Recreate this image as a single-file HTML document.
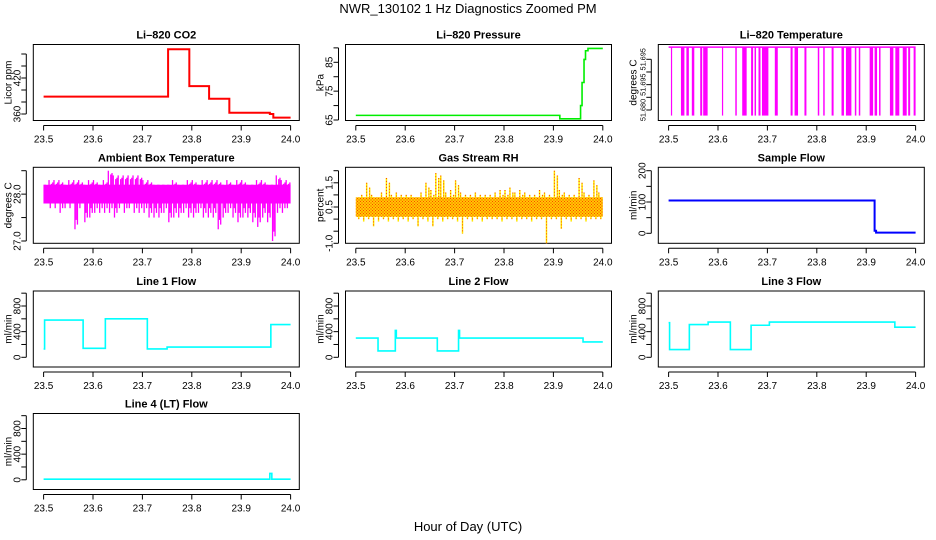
<!DOCTYPE html>
<html><head><meta charset="utf-8">
<style>
html,body{margin:0;padding:0;background:#fff;}
svg{display:block;font-family:"Liberation Sans",Arial,sans-serif;}
</style></head>
<body>
<svg id="chart" width="936" height="540" viewBox="0 0 936 540" xmlns="http://www.w3.org/2000/svg">
<defs>
<pattern id="rhdots" width="3" height="3" patternUnits="userSpaceOnUse"><rect x="0" y="0" width="1" height="1" fill="#ff4400"/><rect x="1.5" y="1.5" width="1" height="1" fill="#ff2200"/></pattern>
</defs>
<text x="468" y="13" text-anchor="middle" font-size="13">NWR_130102  1 Hz Diagnostics Zoomed PM</text>
<text x="468" y="531" text-anchor="middle" font-size="13">Hour of Day (UTC)</text>
</svg>
<script>
// ---- data ----
const xTicks = [23.5, 23.6, 23.7, 23.8, 23.9, 24.0];
const xTickLabels = ["23.5", "23.6", "23.7", "23.8", "23.9", "24.0"];

const co2Times = [23.5, 23.752, 23.795, 23.835, 23.876, 23.958, 23.965, 24.0];
const co2Values = [389, 468, 406.5, 385.5, 362, 360, 354];
const co2Ticks = [360, 380, 400, 420, 440, 460];
const co2TickLabels = ["360", "", "", "420", "", ""];

const presTimes = [23.5, 23.913, 23.955, 23.958, 23.962, 23.965, 23.97, 24.0];
const presValues = [66.6, 65.4, 70, 78, 86, 89, 89.8];
const presTicks = [65, 70, 75, 80, 85, 90];
const presTickLabels = ["65", "", "75", "", "85", ""];

const tempTop = 51.7048;
const tempBottom = 51.6778;
const tempSpikeStart = [23.5047,23.525,23.536,23.547,23.564,23.570,23.608,23.635,23.649,23.667,23.674,23.682,23.689,23.715,23.747,23.755,23.775,23.802,23.813,23.830,23.850,23.859,23.877,23.885,23.907,23.917,23.926,23.948,23.959,23.974,23.985,23.996];
const tempSpikeEnd   = [23.5060,23.532,23.541,23.552,23.568,23.579,23.609,23.638,23.658,23.671,23.677,23.686,23.702,23.721,23.751,23.762,23.779,23.805,23.816,23.834,23.855,23.870,23.880,23.888,23.914,23.922,23.929,23.955,23.967,23.982,23.989,24.0];
const tempTicks = [51.680, 51.685, 51.690, 51.695, 51.700];
const tempTickLabels = ["51.680", "", "51.695", "", "51.695"];

const ambCore = [27.8, 28.2];
const ambHi = [28.2,28.3,28.3,28.3,28.2,28.3,28.3,28.3,28.2,28.3, 28.3,28.2,28.3,28.5,28.4,28.4,28.4,28.4,28.4,28.4, 28.3,28.3,28.2,28.2,28.2,28.2,28.3,28.2,28.2,28.3, 28.3,28.2,28.3,28.3,28.3,28.3,28.2,28.3,28.2,28.3, 28.3,28.2,28.2,28.3,28.3,28.2,28.2,28.4,28.3,28.3];
const ambLo = [27.8,27.7,27.7,27.6,27.7,27.7,27.25,27.7,27.4,27.5, 27.6,27.6,27.6,27.6,27.5,27.7,27.6,27.7,27.6,27.6, 27.6,27.5,27.5,27.5,27.6,27.4,27.5,27.5,27.6,27.5, 27.5,27.6,27.5,27.5,27.5,27.25,27.5,27.6,27.5,27.4, 27.5,27.5,27.4,27.3,27.5,27.4,27.0,27.6,27.6,27.7];
const ambTicks = [27.0, 27.5, 28.0, 28.5];
const ambTickLabels = ["27.0", "", "28.0", ""];

const rhCore = [0.1, 0.9];
const rhHi = [0.7,1.0,1.5,1.0,0.9,1.1,1.7,1.0,1.1,1.0, 1.0,1.0,0.9,1.1,1.5,1.2,1.9,1.8,1.1,1.2, 1.6,1.1,1.0,1.0,1.1,1.0,1.0,1.0,1.1,1.2, 1.2,1.3,1.1,1.2,1.1,1.0,1.0,1.2,1.1,1.0, 2.0,1.2,1.1,1.0,1.0,1.7,1.1,1.0,1.6,1.1];
const rhLo = [0.0,-0.1,0.0,-0.3,-0.1,0.0,-0.1,0.0,-0.1,0.0, -0.1,0.0,-0.3,0.0,-0.1,-0.3,0.0,-0.1,0.0,0.0, -0.1,-0.6,0.0,-0.1,0.0,-0.1,0.0,0.0,0.0,-0.1, 0.0,0.0,-0.1,0.0,0.0,-0.1,0.0,0.0,-1.0,0.0, 0.0,-0.4,0.0,-0.1,0.0,0.0,-0.1,0.0,0.0,0.0];
const rhTicks = [-1.0, -0.5, 0, 0.5, 1.0, 1.5, 2.0];
const rhTickLabels = ["-1.0", "", "", "0.5", "", "1.5", ""];

const sampTimes = [23.5, 23.917, 23.92, 24.0];
const sampValues = [105, 8, 2];
const sampTicks = [0, 50, 100, 150, 200];
const sampTickLabels = ["0", "", "100", "", "200"];

const flowTicks = [0, 200, 400, 600, 800, 1000];
const flowTickLabels = ["0", "", "400", "", "800", ""];
const line1Times = [23.5, 23.502, 23.58, 23.625, 23.71, 23.75, 23.96, 24.0];
const line1Values = [130, 580, 140, 600, 130, 160, 510];
const line2Times = [23.5, 23.545, 23.58, 23.582, 23.665, 23.708, 23.71, 23.96, 24.0];
const line2Values = [300, 100, 420, 300, 100, 420, 300, 240];
const line3Times = [23.5, 23.502, 23.542, 23.58, 23.625, 23.667, 23.704, 23.958, 24.0];
const line3Values = [540, 120, 510, 550, 120, 500, 550, 470];
const line4Times = [23.5, 23.958, 23.962, 24.0];
const line4Values = [10, 100, 10];

// ---- layout ----
const svg = document.getElementById('chart');
const NS = 'http://www.w3.org/2000/svg';
const colLeft = [33.3, 345.5, 658.3];
const rowTop = [44.5, 167.3, 291, 413.5];
const W = 266, H = 76;

function el(tag, parent) { const e = document.createElementNS(NS, tag); parent.appendChild(e); return e; }

function makePanel(col, row, title, ylab, yv0, yOff0, yv1, yOff1, ticks, tickLabels, name, tickFont) {
  const left = colLeft[col], top = rowTop[row];
  const g = el('g', svg);
  
  
  const xs = t => left + 10.3 + (t - 23.5) / 0.5 * 247;
  const ys = v => top + yOff0 + (v - yv0) * (yOff1 - yOff0) / (yv1 - yv0);
  const box = el('rect', g);
  box.setAttribute('x', left); box.setAttribute('y', top); box.setAttribute('width', W); box.setAttribute('height', H);
  box.setAttribute('fill', 'none'); box.setAttribute('stroke', '#000'); box.setAttribute('stroke-width', '1');
  
  
  const tt = el('text', g);
  tt.setAttribute('x', left + W / 2); tt.setAttribute('y', top - 6); tt.setAttribute('text-anchor', 'middle');
  tt.setAttribute('font-size', '11'); tt.setAttribute('font-weight', 'bold');
  tt.textContent = title;
  
  
  const ax = el('g', g);
  
  
  const ay = top + H + 5;
  const xl = el('line', ax);
  xl.setAttribute('x1', xs(xTicks[0])); xl.setAttribute('x2', xs(xTicks[xTicks.length - 1]));
  xl.setAttribute('y1', ay); xl.setAttribute('y2', ay); xl.setAttribute('stroke', '#000');
  xTicks.forEach((t, i) => {
    const tk = el('line', ax);
    tk.setAttribute('x1', xs(t)); tk.setAttribute('x2', xs(t)); tk.setAttribute('y1', ay); tk.setAttribute('y2', ay + 5); tk.setAttribute('stroke', '#000');
    const lb = el('text', ax);
    lb.setAttribute('x', xs(t)); lb.setAttribute('y', ay + 17); lb.setAttribute('text-anchor', 'middle'); lb.setAttribute('font-size', '10');
    lb.textContent = xTickLabels[i];
    
    
  });
  const yg = el('g', g);
  
  
  const axx = left - 7;
  const yl = el('line', yg);
  yl.setAttribute('x1', axx); yl.setAttribute('x2', axx); yl.setAttribute('y1', ys(ticks[0])); yl.setAttribute('y2', ys(ticks[ticks.length - 1])); yl.setAttribute('stroke', '#000');
  ticks.forEach((v, i) => {
    const tk = el('line', yg);
    tk.setAttribute('x1', axx - 5); tk.setAttribute('x2', axx); tk.setAttribute('y1', ys(v)); tk.setAttribute('y2', ys(v)); tk.setAttribute('stroke', '#000');
    if (tickLabels[i]) {
      const lb = el('text', yg);
      const lx = axx - 6, ly = ys(v);
      lb.setAttribute('x', lx); lb.setAttribute('y', ly); lb.setAttribute('text-anchor', 'middle'); lb.setAttribute('font-size', tickFont || '10');
      lb.setAttribute('transform', 'rotate(-90 ' + lx + ' ' + ly + ')');
      lb.textContent = tickLabels[i];
      
      
    }
  });
  const yt = el('text', g);
  const yx = left - 22, yy = top + H / 2;
  yt.setAttribute('x', yx); yt.setAttribute('y', yy); yt.setAttribute('text-anchor', 'middle'); yt.setAttribute('font-size', '10');
  yt.setAttribute('transform', 'rotate(-90 ' + yx + ' ' + yy + ')');
  yt.textContent = ylab;
  
  
  return { g, xs, ys };
}

function stepLine(p, times, values, color, width, name) {
  let d = '';
  for (let i = 0; i < values.length; i++) {
    const x0 = p.xs(times[i]), x1 = p.xs(times[i + 1]), y = p.ys(values[i]);
    d += (i === 0 ? 'M' : 'L') + x0.toFixed(2) + ' ' + y.toFixed(2) + ' L' + x1.toFixed(2) + ' ' + y.toFixed(2) + ' ';
  }
  const path = el('path', p.g);
  path.setAttribute('d', d); path.setAttribute('fill', 'none'); path.setAttribute('stroke', color); path.setAttribute('stroke-width', width);
  
  
}

// CO2
const pCo2 = makePanel(0, 0, 'Li–820 CO2', 'Licor ppm', 360, 69.5, 420, 33.5, co2Ticks, co2TickLabels, 'co2');
stepLine(pCo2, co2Times, co2Values, '#ff0000', 2, 'co2-series');

// Pressure
const pPres = makePanel(1, 0, 'Li–820 Pressure', 'kPa', 65, 75.5, 85, 17.8, presTicks, presTickLabels, 'pressure');
stepLine(pPres, presTimes, presValues, '#00ee00', 1.6, 'pressure-series');

// Temperature
const pTemp = makePanel(2, 0, 'Li–820 Temperature', 'degrees C', 51.680, 65.5, 51.700, 14.8, tempTicks, tempTickLabels, 'li820-temp', '7.3');
const topLine = el('line', pTemp.g);
topLine.setAttribute('x1', pTemp.xs(23.5)); topLine.setAttribute('x2', pTemp.xs(24.0));
topLine.setAttribute('y1', pTemp.ys(tempTop)); topLine.setAttribute('y2', pTemp.ys(tempTop));
topLine.setAttribute('stroke', '#ff00ff'); topLine.setAttribute('stroke-width', '1.5');


tempSpikeStart.forEach((s, i) => {
  const r = el('rect', pTemp.g);
  const x0 = pTemp.xs(s), x1 = pTemp.xs(tempSpikeEnd[i]);
  r.setAttribute('x', x0); r.setAttribute('width', Math.max(1.2, x1 - x0));
  r.setAttribute('y', pTemp.ys(tempTop)); r.setAttribute('height', pTemp.ys(tempBottom) - pTemp.ys(tempTop));
  r.setAttribute('fill', '#ff00ff');
  
  
});

// Ambient
const pAmb = makePanel(0, 1, 'Ambient Box Temperature', 'degrees C', 27.0, 73.7, 28.5, 3.4, ambTicks, ambTickLabels, 'ambient-temp');
const ambBand = el('rect', pAmb.g);
ambBand.setAttribute('x', pAmb.xs(23.5)); ambBand.setAttribute('width', pAmb.xs(24.0) - pAmb.xs(23.5));
ambBand.setAttribute('y', pAmb.ys(ambCore[1])); ambBand.setAttribute('height', pAmb.ys(ambCore[0]) - pAmb.ys(ambCore[1]));
ambBand.setAttribute('fill', '#ff00ff');


ambHi.forEach((h, i) => {
  const t = 23.5 + i * 0.01;
  [[t + 0.001, h, ambCore[0]], [t + 0.0035, ambCore[1], ambLo[i]], [t + 0.006, h - 0.08, ambLo[i] + 0.2], [t + 0.0085, h - 0.05, ambLo[i] + 0.1]].forEach(seg => {
    const xx = pAmb.xs(Math.min(seg[0], 24.0));
    const ln = el('line', pAmb.g);
    ln.setAttribute('x1', xx); ln.setAttribute('x2', xx);
    ln.setAttribute('y1', pAmb.ys(seg[1])); ln.setAttribute('y2', pAmb.ys(seg[2]));
    ln.setAttribute('stroke', '#ff00ff'); ln.setAttribute('stroke-width', '1.3');
    
    
  });
});

// RH
const pRh = makePanel(1, 1, 'Gas Stream RH', 'percent', -1.0, 76, 2.0, 3.4, rhTicks, rhTickLabels, 'gas-rh');
rhHi.forEach((h, i) => {
  const t = 23.5 + i * 0.01;
  [[t + 0.002, h, rhCore[0]], [t + 0.006, rhCore[1], rhLo[i]], [t + 0.008, h - 0.2, rhCore[0]]].forEach(seg => {
    const xx = pRh.xs(Math.min(seg[0], 24.0));
    const ln = el('line', pRh.g);
    ln.setAttribute('x1', xx); ln.setAttribute('x2', xx);
    ln.setAttribute('y1', pRh.ys(seg[1])); ln.setAttribute('y2', pRh.ys(seg[2]));
    ln.setAttribute('stroke', '#ffee00'); ln.setAttribute('stroke-width', '1.5');
    
    
    const ln2 = el('line', pRh.g);
    ln2.setAttribute('x1', xx); ln2.setAttribute('x2', xx);
    ln2.setAttribute('y1', pRh.ys(seg[1])); ln2.setAttribute('y2', pRh.ys(seg[2]));
    ln2.setAttribute('stroke', '#ff3300'); ln2.setAttribute('stroke-width', '0.9'); ln2.setAttribute('stroke-dasharray', '1 2');
    
    
  });
});
const rhBand = el('rect', pRh.g);
rhBand.setAttribute('x', pRh.xs(23.5)); rhBand.setAttribute('width', pRh.xs(24.0) - pRh.xs(23.5));
rhBand.setAttribute('y', pRh.ys(rhCore[1])); rhBand.setAttribute('height', pRh.ys(rhCore[0]) - pRh.ys(rhCore[1]));
rhBand.setAttribute('fill', '#ffcc00');


const rhDots = el('rect', pRh.g);
rhDots.setAttribute('x', pRh.xs(23.5)); rhDots.setAttribute('width', pRh.xs(24.0) - pRh.xs(23.5));
rhDots.setAttribute('y', pRh.ys(rhCore[1])); rhDots.setAttribute('height', pRh.ys(rhCore[0]) - pRh.ys(rhCore[1]));
rhDots.setAttribute('fill', 'url(#rhdots)');



// Sample flow
const pSamp = makePanel(2, 1, 'Sample Flow', 'ml/min', 0, 66, 200, 3.4, sampTicks, sampTickLabels, 'sample-flow');
stepLine(pSamp, sampTimes, sampValues, '#0000ff', 2, 'sample-flow-series');

// Line flows
const pL1 = makePanel(0, 2, 'Line 1 Flow', 'ml/min', 0, 66.3, 800, 15, flowTicks, flowTickLabels, 'line1-flow');
stepLine(pL1, line1Times, line1Values, '#00ffff', 1.6, 'line1-flow-series');
const pL2 = makePanel(1, 2, 'Line 2 Flow', 'ml/min', 0, 66.3, 800, 15, flowTicks, flowTickLabels, 'line2-flow');
stepLine(pL2, line2Times, line2Values, '#00ffff', 1.6, 'line2-flow-series');
const pL3 = makePanel(2, 2, 'Line 3 Flow', 'ml/min', 0, 66.3, 800, 15, flowTicks, flowTickLabels, 'line3-flow');
stepLine(pL3, line3Times, line3Values, '#00ffff', 1.6, 'line3-flow-series');
const pL4 = makePanel(0, 3, 'Line 4 (LT) Flow', 'ml/min', 0, 66.3, 800, 15, flowTicks, flowTickLabels, 'line4-flow');
stepLine(pL4, line4Times, line4Values, '#00ffff', 1.6, 'line4-flow-series');
</script>
</body></html>
